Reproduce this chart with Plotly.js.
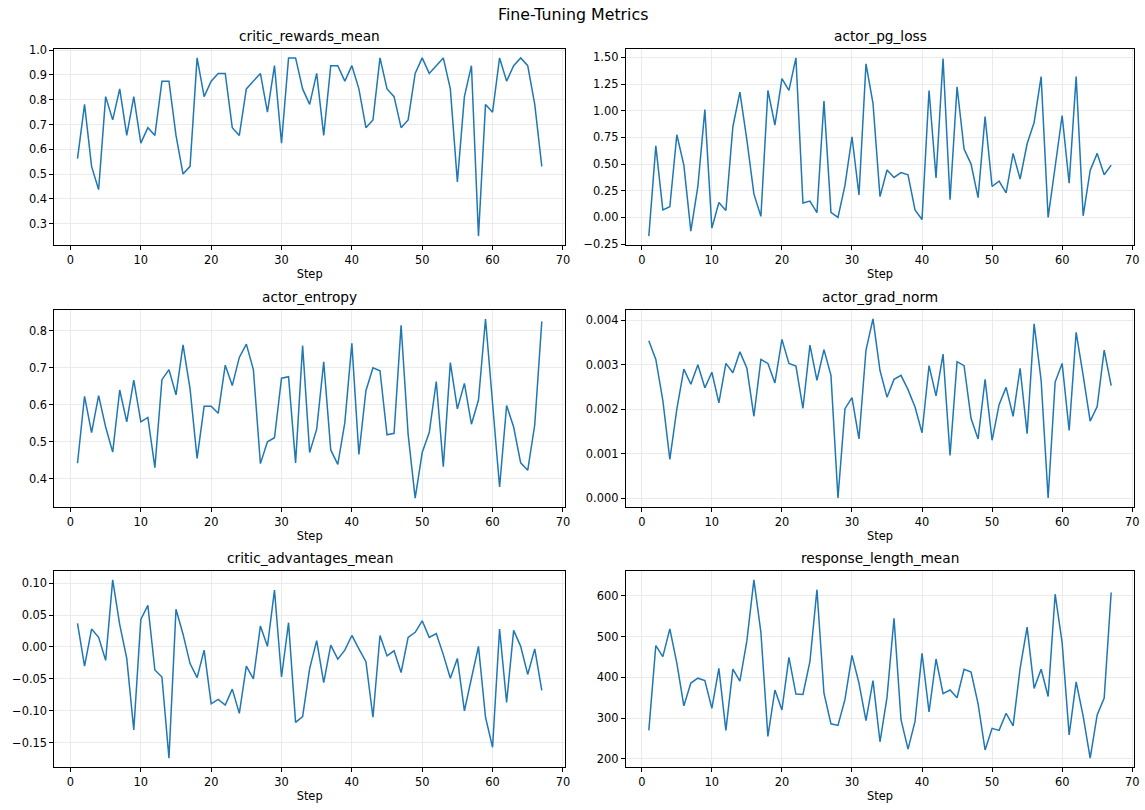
<!DOCTYPE html>
<html>
<head>
<meta charset="utf-8">
<script src="https://cdn.plot.ly/plotly-3.0.1.min.js"></script>
<style>
  html, body { margin: 0; padding: 0; background: #ffffff; }
  #chart { width: 1145px; height: 810px; }
</style>
</head>
<body>
<div id="chart"></div>
<script>
// ---- Data ----
const steps = Array.from({length: 67}, (_, i) => i + 1);

const panelTitles = ["critic_rewards_mean", "actor_pg_loss", "actor_entropy",
                     "actor_grad_norm", "critic_advantages_mean", "response_length_mean"];

const criticRewardsMean = [
  0.5625, 0.78125, 0.53125, 0.4375, 0.8125, 0.71875, 0.84375, 0.65625, 0.8125, 0.625,
  0.6875, 0.65625, 0.875, 0.875, 0.65625, 0.5, 0.53125, 0.96875, 0.8125, 0.875,
  0.90625, 0.90625, 0.6875, 0.65625, 0.84375, 0.875, 0.90625, 0.75, 0.9375, 0.625,
  0.96875, 0.96875, 0.84375, 0.78125, 0.90625, 0.65625, 0.9375, 0.9375, 0.875, 0.9375,
  0.84375, 0.6875, 0.71875, 0.96875, 0.84375, 0.8125, 0.6875, 0.71875, 0.90625, 0.96875,
  0.90625, 0.9375, 0.96875, 0.84375, 0.46875, 0.8125, 0.9375, 0.25, 0.78125, 0.75,
  0.96875, 0.875, 0.9375, 0.96875, 0.9375, 0.78125, 0.53125
];

const actorPgLoss = [
  -0.175, 0.67, 0.07, 0.10, 0.775, 0.49, -0.128, 0.29, 1.01, -0.10,
  0.14, 0.065, 0.85, 1.175, 0.725, 0.22, 0.01, 1.19, 0.866, 1.30,
  1.19, 1.495, 0.135, 0.153, 0.044, 1.09, 0.047, 0.0, 0.30, 0.756,
  0.21, 1.44, 1.07, 0.195, 0.445, 0.375, 0.42, 0.40, 0.07, -0.02,
  1.19, 0.37, 1.49, 0.165, 1.225, 0.64, 0.50, 0.185, 0.945, 0.29,
  0.34, 0.23, 0.60, 0.36, 0.69, 0.89, 1.32, 0.0, 0.475, 0.955,
  0.32, 1.32, 0.015, 0.44, 0.60, 0.40, 0.49
];

const actorEntropy = [
  0.442, 0.623, 0.525, 0.625, 0.54, 0.472, 0.64, 0.554, 0.667, 0.554,
  0.566, 0.43, 0.668, 0.695, 0.627, 0.762, 0.643, 0.455, 0.596, 0.596,
  0.577, 0.707, 0.652, 0.728, 0.764, 0.695, 0.441, 0.50, 0.511, 0.672,
  0.676, 0.443, 0.76, 0.471, 0.534, 0.716, 0.478, 0.439, 0.552, 0.766,
  0.466, 0.638, 0.70, 0.692, 0.519, 0.523, 0.815, 0.52, 0.348, 0.471,
  0.525, 0.663, 0.433, 0.714, 0.589, 0.658, 0.5475, 0.613, 0.832, 0.61,
  0.378, 0.598, 0.54, 0.443, 0.423, 0.546, 0.825
];

const actorGradNorm = [
  0.00354, 0.00312, 0.00220, 0.00087, 0.00200, 0.00290, 0.00256, 0.00300, 0.00248, 0.00283,
  0.00214, 0.00303, 0.00282, 0.00329, 0.00292, 0.00184, 0.00312, 0.00303, 0.00259, 0.00357,
  0.00303, 0.00297, 0.00202, 0.00344, 0.00265, 0.00334, 0.00276, 0.00000, 0.00201, 0.00226,
  0.00133, 0.00333, 0.00403, 0.00287, 0.00227, 0.00267, 0.00276, 0.00244, 0.00205, 0.00147,
  0.00298, 0.00230, 0.00324, 0.00096, 0.00307, 0.00298, 0.00179, 0.00133, 0.00267, 0.00130,
  0.00210, 0.00249, 0.00184, 0.00292, 0.00145, 0.00392, 0.00265, 0.00000, 0.00261, 0.00303,
  0.00152, 0.00373, 0.00276, 0.00173, 0.00206, 0.00333, 0.00253
];

const criticAdvantagesMean = [
  0.037, -0.030, 0.028, 0.015, -0.021, 0.105, 0.035, -0.018, -0.130, 0.043,
  0.065, -0.036, -0.047, -0.174, 0.059, 0.020, -0.026, -0.048, -0.005, -0.089,
  -0.082, -0.091, -0.066, -0.104, -0.030, -0.050, 0.033, 0.001, 0.089, -0.047,
  0.038, -0.118, -0.109, -0.034, 0.010, -0.056, 0.003, -0.019, -0.005, 0.018,
  -0.003, -0.023, -0.110, 0.018, -0.014, -0.006, -0.040, 0.015, 0.023, 0.041,
  0.015, 0.021, -0.012, -0.049, -0.018, -0.100, -0.049, 0.001, -0.110, -0.157,
  0.028, -0.087, 0.026, 0.001, -0.043, -0.003, -0.068
];

const responseLengthMean = [
  270, 478, 451, 519, 435, 330, 386, 398, 392, 324,
  422, 270, 420, 391, 490, 639, 510, 255, 369, 320,
  449, 359, 358, 439, 615, 361, 286, 282, 346, 454,
  386, 294, 392, 242, 351, 545, 296, 224, 292, 459,
  315, 445, 360, 369, 350, 420, 413, 335, 222, 275,
  270, 312, 281, 422, 523, 373, 420, 353, 604, 485,
  259, 389, 305, 202, 308, 349, 608
];

const xTickVals = [0, 10, 20, 30, 40, 50, 60, 70];
const yTickFormats = [".1f", ".2f", ".1f", ".3f", ".2f", "d"];
const yTickSteps = [0.1, 0.25, 0.1, 0.001, 0.05, 100];

// ---- Layout geometry (pixels of the 1145x810 figure) ----
const W = 1145, H = 810;
const cols = [[54.3, 565], [625.7, 1134.3]];
const rows = [[49, 245], [310, 507], [571, 767]];

const series = [criticRewardsMean, actorPgLoss, actorEntropy,
                actorGradNorm, criticAdvantagesMean, responseLengthMean];

const font = "DejaVu Sans, Liberation Sans, Arial, sans-serif";
const traces = [];
const layout = {
  width: W, height: H,
  margin: {l: 0, r: 0, t: 0, b: 0},
  paper_bgcolor: "#ffffff",
  plot_bgcolor: "#ffffff",
  showlegend: false,
  font: {family: font, size: 11.4, color: "#000000"},
  annotations: [{
    text: "Fine-Tuning Metrics", xref: "paper", yref: "paper",
    x: 0.5, y: 1 - 15 / H, xanchor: "center", yanchor: "middle",
    showarrow: false, font: {family: font, size: 15.8, color: "#000000"}
  }]
};

function pad(lo, hi) { const m = (hi - lo) * 0.05; return [lo - m, hi + m]; }

series.forEach((vals, i) => {
  const r = Math.floor(i / 2), c = i % 2;
  const n = i + 1;
  const xa = n === 1 ? "xaxis" : "xaxis" + n;
  const ya = n === 1 ? "yaxis" : "yaxis" + n;
  traces.push({
    x: steps, y: vals, type: "scatter", mode: "lines",
    xaxis: n === 1 ? "x" : "x" + n, yaxis: n === 1 ? "y" : "y" + n,
    line: {color: "#1f77b4", width: 1.5}, hoverinfo: "x+y"
  });
  const lo = Math.min(...vals), hi = Math.max(...vals);
  const common = {
    showline: true, mirror: true, linecolor: "#000000", linewidth: 1,
    ticks: "outside", ticklen: 4, tickwidth: 1, tickcolor: "#000000",
    showgrid: true, gridcolor: "#e6e6e6", gridwidth: 0.8,
    zeroline: false, tickfont: {family: font, size: 11.4, color: "#000000"}
  };
  layout[xa] = Object.assign({}, common, {
    domain: [cols[c][0] / W, cols[c][1] / W],
    anchor: n === 1 ? "y" : "y" + n,
    range: pad(1, 67), tickmode: "array", tickvals: xTickVals,
    title: {text: "Step", font: {family: font, size: 11.4, color: "#000000"}, standoff: 4}
  });
  layout[ya] = Object.assign({}, common, {
    domain: [1 - rows[r][1] / H, 1 - rows[r][0] / H],
    anchor: n === 1 ? "x" : "x" + n,
    range: pad(lo, hi), tickformat: yTickFormats[i],
    tick0: 0, dtick: yTickSteps[i]
  });
  layout.annotations.push({
    text: panelTitles[i], xref: "paper", yref: "paper",
    x: (cols[c][0] + cols[c][1]) / 2 / W, y: 1 - rows[r][0] / H,
    xanchor: "center", yanchor: "bottom", yshift: 3,
    showarrow: false, font: {family: font, size: 13.7, color: "#000000"}
  });
});

Plotly.newPlot("chart", traces, layout, {displayModeBar: false, staticPlot: true});
</script>
</body>
</html>
